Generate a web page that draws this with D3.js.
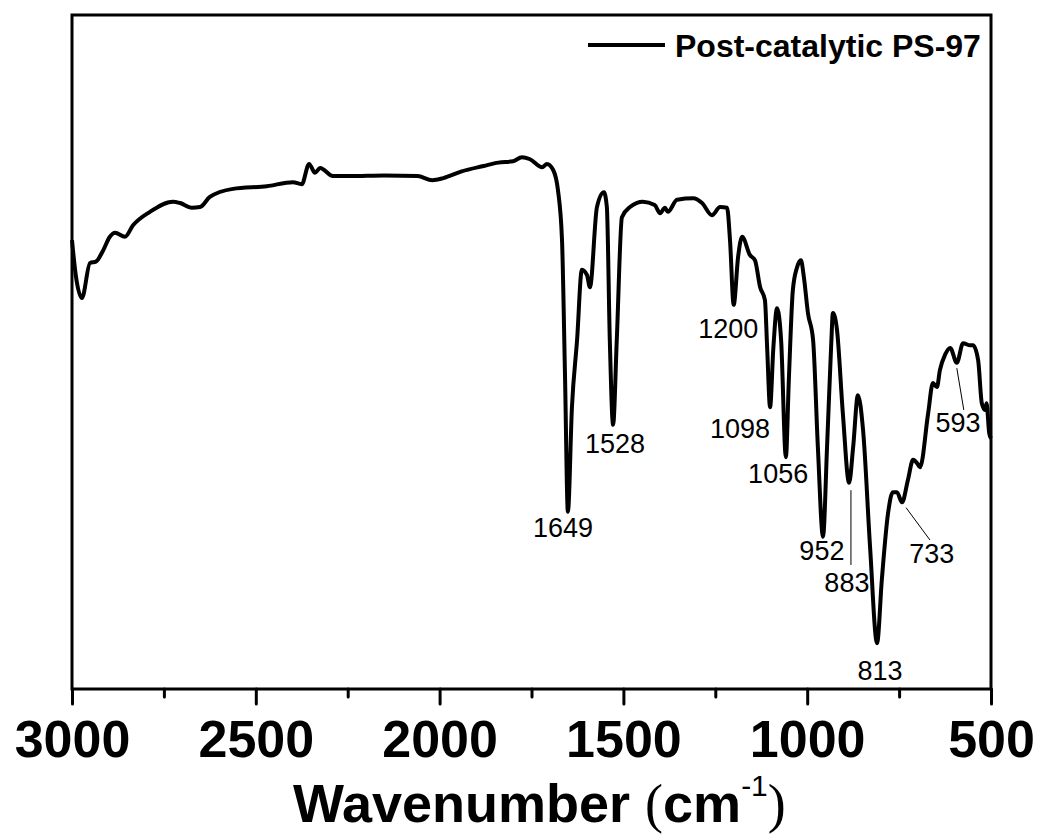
<!DOCTYPE html>
<html>
<head>
<style>
body {
    margin: 0;
    background: #ffffff;
}
text {
    font-family: "Liberation Sans", Arial, sans-serif;
}
</style>
</head>
<body>
<svg id="chart" width="1038" height="835"></svg>
<script src="https://d3js.org/d3.v7.min.js"></script>
<script>
    // FTIR spectrum (wavenumber in cm-1, transmittance arbitrary units)
    const wavenumber = [3000, 2990, 2973, 2951, 2935, 2916, 2897, 2883, 2856, 2834, 2788, 2725, 2706, 2674, 2652, 2625, 2562, 2470, 2399, 2375,
        2355, 2339, 2325, 2290, 2244, 2150, 2060, 2020, 1990, 1940, 1880, 1840, 1800, 1776, 1754, 1721, 1708, 1691, 1678, 1667,
        1659, 1651, 1640, 1626, 1613, 1599, 1591, 1572, 1553, 1545, 1537, 1528, 1518, 1504, 1482, 1447, 1415, 1400, 1387, 1379,
        1354, 1310, 1286, 1259, 1237, 1218, 1210, 1200, 1188, 1177, 1156, 1142, 1128, 1115, 1109, 1101, 1092, 1082, 1071, 1058,
        1050, 1039, 1028, 1017, 1009, 998, 984, 971, 957, 946, 935, 930, 919, 903, 886, 875, 862, 848, 829, 810,
        797, 780, 767, 756, 742, 726, 712, 701, 693, 671, 658, 647, 639, 625, 611, 593, 576, 557, 549, 535,
        525, 516, 512, 505, 500];
    const transmittance = [66.6, 61.5, 58.0, 63.2, 63.4, 65.0, 67.1, 67.7, 67.1, 68.8, 70.8, 72.3, 72.1, 71.4, 71.5, 73.0, 74.2, 74.6, 75.2, 74.9,
        77.9, 76.6, 77.3, 76.1, 76.1, 76.2, 76.1, 75.5, 75.8, 76.8, 77.6, 78.1, 78.3, 78.9, 78.6, 77.4, 77.9, 77.0, 74.0, 66.6,
        46.9, 26.3, 41.8, 51.8, 62.2, 61.4, 59.6, 71.5, 73.7, 71.5, 51.8, 39.2, 51.8, 70.0, 71.5, 72.3, 71.8, 70.6, 71.4, 70.8,
        72.6, 72.8, 72.1, 70.3, 71.5, 71.4, 66.6, 57.0, 64.1, 67.1, 64.4, 63.6, 59.6, 57.7, 50.7, 41.8, 50.7, 56.5, 51.8, 34.4,
        45.8, 59.2, 62.5, 63.6, 61.1, 55.8, 51.8, 35.9, 22.6, 35.9, 50.7, 55.8, 53.3, 40.9, 30.6, 35.9, 43.6, 38.4, 21.1, 6.8,
        16.2, 26.1, 29.2, 29.2, 27.7, 31.0, 34.0, 33.5, 32.9, 40.9, 45.4, 44.8, 47.3, 49.6, 50.6, 48.4, 51.3, 51.0, 51.0, 48.8,
        42.4, 41.4, 42.4, 38.0, 37.2];

    // peak labels: text, label centre (wavenumber) and baseline (transmittance)
    const peak_labels = ["1649", "1528", "1200", "1098", "1056", "952", "883", "813", "733", "593"];
    const peak_label_wn = [1664, 1523, 1215, 1183, 1079, 960, 892, 802, 661, 590];
    const peak_label_t = [22.6, 35.0, 52.1, 37.2, 30.6, 19.1, 14.4, 1.3, 18.7, 38.1];

    // thin leader lines from a peak to its label
    const leaders = [
        {wn1: 881, t1: 29.5, wn2: 881, t2: 18.4},
        {wn1: 731, t1: 26.9, wn2: 666, t2: 22.1},
        {wn1: 593, t1: 47.6, wn2: 574, t2: 41.4}
    ];

    const major_ticks = [3000, 2500, 2000, 1500, 1000, 500];
    const minor_ticks = [2750, 2250, 1750, 1250, 750];
    const series_name = "Post-catalytic PS-97";

    const svg = d3.select("#chart");
    const margin = {left: 72, right: 47, top: 15, bottom: 146};
    const plot_w = 1038 - margin.left - margin.right;
    const plot_h = 835 - margin.top - margin.bottom;

    const x = d3.scaleLinear().domain([3000, 500]).range([margin.left, margin.left + plot_w]);
    const y = d3.scaleLinear().domain([0, 100]).range([margin.top + plot_h, margin.top]);

    const spectrum = wavenumber.map((w, i) => ({wn: w, t: transmittance[i]}));

    drawSpectrum();
    drawFrame();
    drawAxis();
    drawPeakLabels();
    drawLegend();
    drawTitle();

    function drawSpectrum() {
        const line = d3.line()
            .x(d => x(d.wn))
            .y(d => y(d.t))
            .curve(d3.curveMonotoneX);

        svg.append("path")
            .datum(spectrum)
            .attr("d", line)
            .style("fill", "none")
            .style("stroke", "#000")
            .style("stroke-width", 4)
            .style("stroke-linejoin", "round");
    }

    function drawFrame() {
        svg.append("rect")
            .attr("x", margin.left)
            .attr("y", margin.top)
            .attr("width", plot_w)
            .attr("height", plot_h)
            .style("fill", "none")
            .style("stroke", "#000")
            .style("stroke-width", 3);
    }

    function drawAxis() {
        const bottom = margin.top + plot_h;

        const minor = svg.append("g")
            .attr("transform", `translate(0,${bottom})`)
            .call(d3.axisBottom(x).tickValues(minor_ticks).tickSize(8).tickFormat(""));
        minor.select(".domain").remove();
        minor.selectAll("line").style("stroke-width", 3).style("stroke-linecap", "round");

        const major = svg.append("g")
            .attr("transform", `translate(0,${bottom})`)
            .call(d3.axisBottom(x).tickValues(major_ticks).tickSize(15).tickPadding(16).tickFormat(d3.format("d")));
        major.select(".domain").remove();
        major.selectAll("line").style("stroke-width", 3).style("stroke-linecap", "round");
        major.selectAll("text")
            .style("font-family", "'Liberation Sans', Arial, sans-serif")
            .style("font-size", "52px")
            .style("font-weight", "bold")
            .style("fill", "#000");
    }

    function drawPeakLabels() {
        svg.selectAll("text.peak")
            .data(peak_labels)
            .enter()
            .append("text")
            .attr("class", "peak")
            .attr("x", (d, i) => x(peak_label_wn[i]))
            .attr("y", (d, i) => y(peak_label_t[i]))
            .attr("text-anchor", "middle")
            .style("font-size", "27px")
            .style("fill", "#000")
            .text(d => d);

        svg.selectAll("line.leader")
            .data(leaders)
            .enter()
            .append("line")
            .attr("class", "leader")
            .attr("x1", d => x(d.wn1))
            .attr("y1", d => y(d.t1))
            .attr("x2", d => x(d.wn2))
            .attr("y2", d => y(d.t2))
            .style("stroke", "#000")
            .style("stroke-width", 1);
    }

    function drawLegend() {
        svg.append("line")
            .attr("x1", 588)
            .attr("x2", 665)
            .attr("y1", 45)
            .attr("y2", 45)
            .style("stroke", "#000")
            .style("stroke-width", 4);

        svg.append("text")
            .attr("x", 675)
            .attr("y", 57)
            .style("font-size", "32px")
            .style("font-weight", "bold")
            .text(series_name);
    }

    function drawTitle() {
        const title = svg.append("text")
            .attr("x", 293)
            .attr("y", 822)
            .style("font-size", "54px")
            .style("font-weight", "bold");
        title.append("tspan").text("Wavenumber ");
        title.append("tspan")
            .style("font-family", "'Liberation Serif', 'Times New Roman', serif")
            .style("font-weight", "normal")
            .style("font-size", "54px")
            .text("(");
        title.append("tspan").text("cm");
        title.append("tspan")
            .attr("dy", -26)
            .style("font-size", "30px")
            .style("font-weight", "normal")
            .text("-1");
        title.append("tspan")
            .attr("dy", 26)
            .style("font-family", "'Liberation Serif', 'Times New Roman', serif")
            .style("font-weight", "normal")
            .style("font-size", "54px")
            .text(")");
    }
</script>
</body>
</html>
